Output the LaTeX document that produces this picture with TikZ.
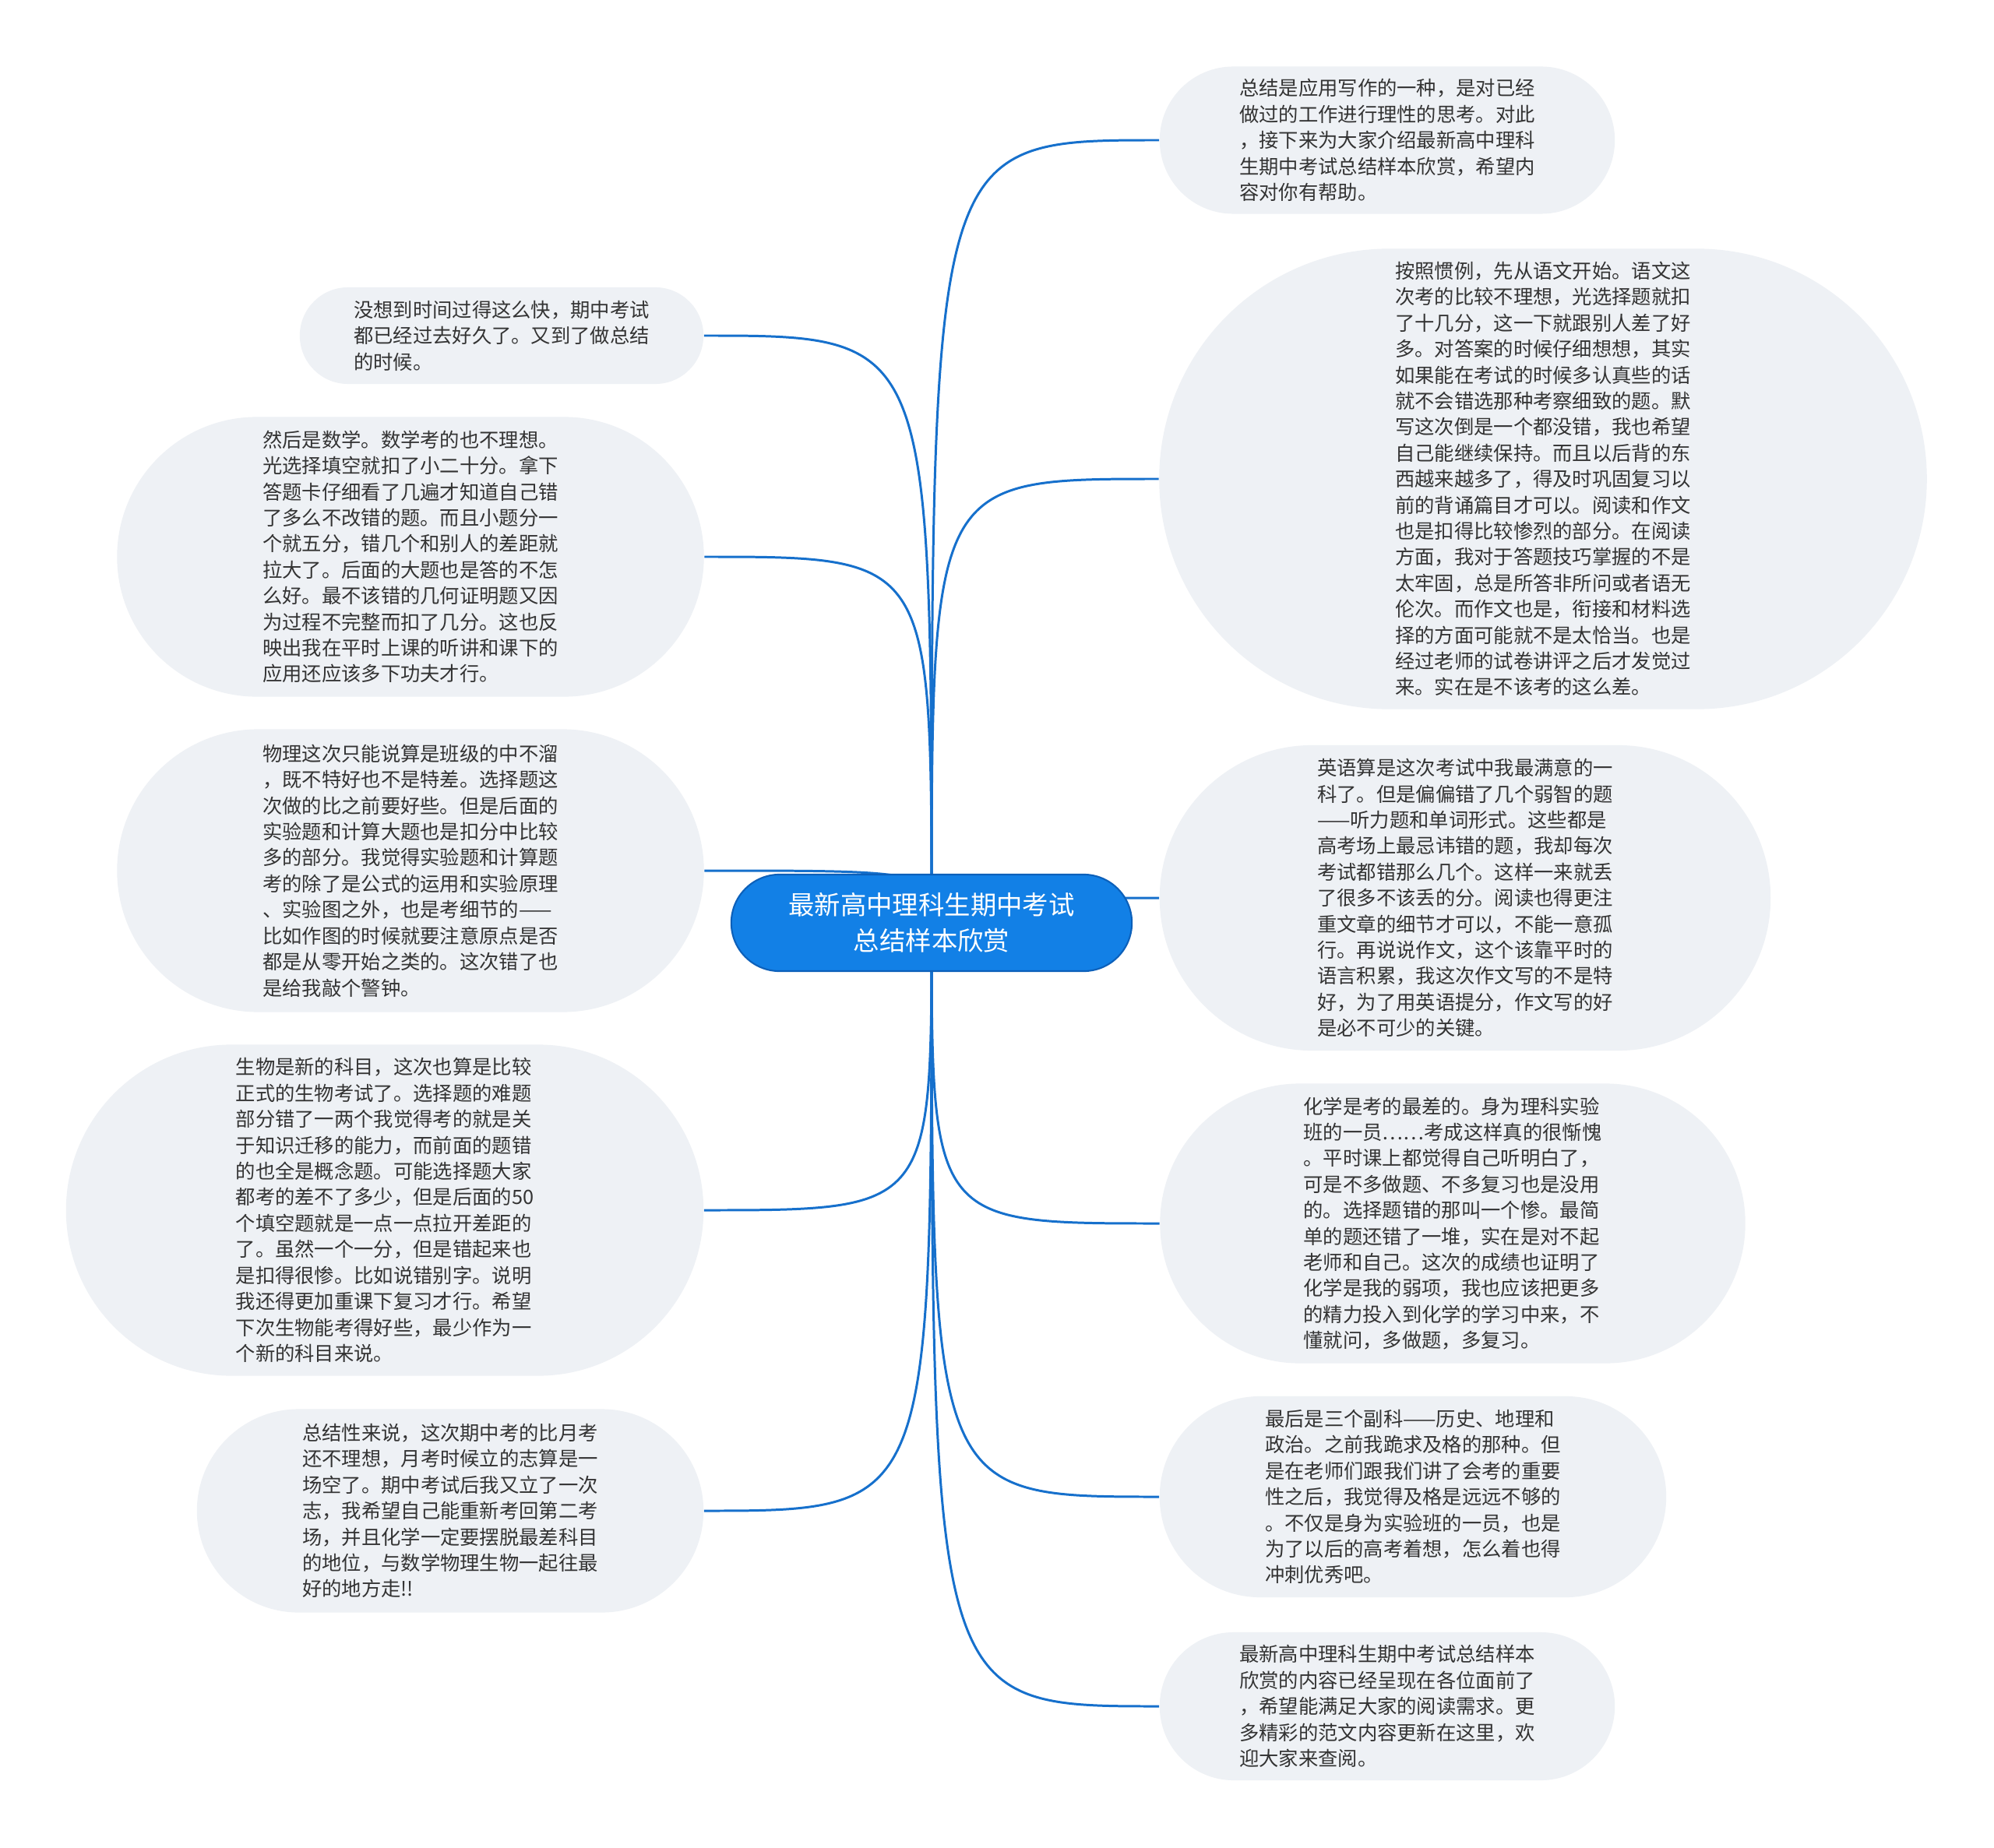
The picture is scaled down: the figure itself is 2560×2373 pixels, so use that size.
\documentclass[tikz,border=0pt]{standalone}
\usepackage{fontspec}
\setmainfont{Noto Sans CJK SC}
\usetikzlibrary{shapes.misc, backgrounds}
\definecolor{leafgray}{RGB}{238,241,245}
\definecolor{txtgray}{RGB}{51,51,51}
\definecolor{hubblue}{RGB}{18,128,230}
\definecolor{hubedge}{RGB}{12,96,186}
\definecolor{linkblue}{RGB}{22,112,204}

\begin{document}
\begin{tikzpicture}[x=0.01cm, y=-0.01cm,
  leaf/.style={rounded rectangle, fill=leafgray, text=txtgray, align=left,
               inner sep=0pt, font=\fontsize{7.2pt}{9.5pt}\selectfont},
  hub/.style={rounded rectangle, fill=hubblue, draw=hubedge, line width=0.6pt,
              text=white, align=center, inner sep=0pt,
              font=\fontsize{9.5pt}{13pt}\selectfont,
              minimum width=5.14cm, minimum height=1.24cm},
  link/.style={draw=linkblue, line width=0.85pt}]
\useasboundingbox (0,0) rectangle (2560,2373);
% Central topic.
\node[hub] (hub) at (1196,1185) {最新高中理科生期中考试\\总结样本欣赏};
% Right branch.
\node[leaf, minimum width=5.84cm, minimum height=1.89cm] (intro) at (1781,180)
  {总结是应用写作的一种，是对已经\\做过的工作进行理性的思考。对此\\，接下来为大家介绍最新高中理科\\生期中考试总结样本欣赏，希望内\\容对你有帮助。};
\node[leaf, minimum width=9.85cm, minimum height=5.91cm] (chinese) at (1981,615)
  {按照惯例，先从语文开始。语文这\\次考的比较不理想，光选择题就扣\\了十几分，这一下就跟别人差了好\\多。对答案的时候仔细想想，其实\\如果能在考试的时候多认真些的话\\就不会错选那种考察细致的题。默\\写这次倒是一个都没错，我也希望\\自己能继续保持。而且以后背的东\\西越来越多了，得及时巩固复习以\\前的背诵篇目才可以。阅读和作文\\也是扣得比较惨烈的部分。在阅读\\方面，我对于答题技巧掌握的不是\\太牢固，总是所答非所问或者语无\\伦次。而作文也是，衔接和材料选\\择的方面可能就不是太恰当。也是\\经过老师的试卷讲评之后才发觉过\\来。实在是不该考的这么差。};
\node[leaf, minimum width=7.84cm, minimum height=3.92cm] (english) at (1881,1153)
  {英语算是这次考试中我最满意的一\\科了。但是偏偏错了几个弱智的题\\——听力题和单词形式。这些都是\\高考场上最忌讳错的题，我却每次\\考试都错那么几个。这样一来就丢\\了很多不该丢的分。阅读也得更注\\重文章的细节才可以，不能一意孤\\行。再说说作文，这个该靠平时的\\语言积累，我这次作文写的不是特\\好，为了用英语提分，作文写的好\\是必不可少的关键。};
\node[leaf, minimum width=7.51cm, minimum height=3.59cm] (chem) at (1865,1571)
  {化学是考的最差的。身为理科实验\\班的一员……考成这样真的很惭愧\\。平时课上都觉得自己听明白了，\\可是不多做题、不多复习也是没用\\的。选择题错的那叫一个惨。最简\\单的题还错了一堆，实在是对不起\\老师和自己。这次的成绩也证明了\\化学是我的弱项，我也应该把更多\\的精力投入到化学的学习中来，不\\懂就问，多做题，多复习。};
\node[leaf, minimum width=6.50cm, minimum height=2.58cm] (minor) at (1814,1922)
  {最后是三个副科——历史、地理和\\政治。之前我跪求及格的那种。但\\是在老师们跟我们讲了会考的重要\\性之后，我觉得及格是远远不够的\\。不仅是身为实验班的一员，也是\\为了以后的高考着想，怎么着也得\\冲刺优秀吧。};
\node[leaf, minimum width=5.84cm, minimum height=1.90cm] (outro) at (1781,2191)
  {最新高中理科生期中考试总结样本\\欣赏的内容已经呈现在各位面前了\\，希望能满足大家的阅读需求。更\\多精彩的范文内容更新在这里，欢\\迎大家来查阅。};
% Left branch.
\node[leaf, minimum width=5.18cm, minimum height=1.24cm] (opening) at (644,431)
  {没想到时间过得这么快，期中考试\\都已经过去好久了。又到了做总结\\的时候。};
\node[leaf, minimum width=7.53cm, minimum height=3.59cm] (maths) at (527,715)
  {然后是数学。数学考的也不理想。\\光选择填空就扣了小二十分。拿下\\答题卡仔细看了几遍才知道自己错\\了多么不改错的题。而且小题分一\\个就五分，错几个和别人的差距就\\拉大了。后面的大题也是答的不怎\\么好。最不该错的几何证明题又因\\为过程不完整而扣了几分。这也反\\映出我在平时上课的听讲和课下的\\应用还应该多下功夫才行。};
\node[leaf, minimum width=7.53cm, minimum height=3.63cm] (physics) at (527,1118)
  {物理这次只能说算是班级的中不溜\\，既不特好也不是特差。选择题这\\次做的比之前要好些。但是后面的\\实验题和计算大题也是扣分中比较\\多的部分。我觉得实验题和计算题\\考的除了是公式的运用和实验原理\\、实验图之外，也是考细节的——\\比如作图的时候就要注意原点是否\\都是从零开始之类的。这次错了也\\是给我敲个警钟。};
\node[leaf, minimum width=8.18cm, minimum height=4.25cm] (biology) at (494,1554)
  {生物是新的科目，这次也算是比较\\正式的生物考试了。选择题的难题\\部分错了一两个我觉得考的就是关\\于知识迁移的能力，而前面的题错\\的也全是概念题。可能选择题大家\\都考的差不了多少，但是后面的50\\个填空题就是一点一点拉开差距的\\了。虽然一个一分，但是错起来也\\是扣得很惨。比如说错别字。说明\\我还得更加重课下复习才行。希望\\下次生物能考得好些，最少作为一\\个新的科目来说。};
\node[leaf, minimum width=6.50cm, minimum height=2.61cm] (summary) at (578,1940)
  {总结性来说，这次期中考的比月考\\还不理想，月考时候立的志算是一\\场空了。期中考试后我又立了一次\\志，我希望自己能重新考回第二考\\场，并且化学一定要摆脱最差科目\\的地位，与数学物理生物一起往最\\好的地方走!!};
% Branch curves sit behind the boxes.
\begin{scope}[on background layer]
\fill[white] (0,0) rectangle (2560,2373);
\foreach \leafname in {intro,chinese,english,chem,minor,outro}
  \draw[link] (hub.center) .. controls (hub.center |- \leafname.west) .. (\leafname.west);
\foreach \leafname in {opening,maths,physics,biology,summary}
  \draw[link] (hub.center) .. controls (hub.center |- \leafname.east) .. (\leafname.east);
\end{scope}
\end{tikzpicture}
\end{document}
